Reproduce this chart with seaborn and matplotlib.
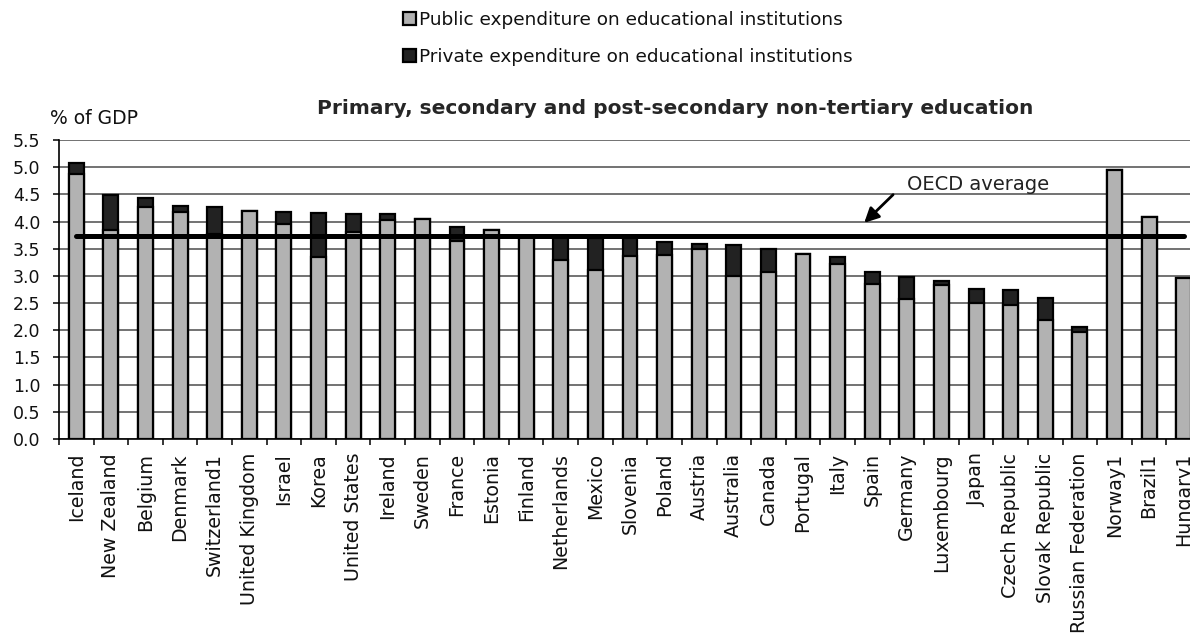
import matplotlib
matplotlib.use("Agg")
import matplotlib.pyplot as plt
from matplotlib.patches import Patch
from matplotlib.ticker import MultipleLocator, FixedLocator
import seaborn as sns
import numpy as np
import pandas as pd

# Data (% of GDP)
countries = ["Iceland", "New Zealand", "Belgium", "Denmark", "Switzerland1",
             "United Kingdom", "Israel", "Korea", "United States", "Ireland",
             "Sweden", "France", "Estonia", "Finland", "Netherlands", "Mexico",
             "Slovenia", "Poland", "Austria", "Australia", "Canada", "Portugal",
             "Italy", "Spain", "Germany", "Luxembourg", "Japan", "Czech Republic",
             "Slovak Republic", "Russian Federation", "Norway1", "Brazil1", "Hungary1"]
public = [4.88, 3.84, 4.26, 4.17, 3.78, 4.20, 3.96, 3.35, 3.81, 4.03,
          4.04, 3.65, 3.85, 3.72, 3.30, 3.11, 3.37, 3.39, 3.49, 3.00,
          3.08, 3.40, 3.22, 2.85, 2.58, 2.83, 2.50, 2.47, 2.19, 1.97,
          4.95, 4.08, 2.96]
private = [0.20, 0.64, 0.17, 0.11, 0.49, 0.00, 0.22, 0.81, 0.32, 0.10,
           0.00, 0.25, 0.00, 0.00, 0.42, 0.59, 0.33, 0.23, 0.10, 0.57,
           0.41, 0.00, 0.12, 0.22, 0.40, 0.08, 0.26, 0.27, 0.41, 0.09,
           0.00, 0.00, 0.00]
oecd_average = 3.73

df = pd.DataFrame({"Country": countries, "Public": public, "Private": private})
df["Total"] = df["Public"] + df["Private"]

sns.set_style("white")
plt.rcParams["font.family"] = ["DejaVu Sans"]

fig = plt.figure(figsize=(11.9, 6.33), dpi=100)
# axes run past the right edge, like the cropped original
ax = fig.add_axes([59 / 1190, 194 / 633, 1142 / 1190, 299 / 633])

grey = "#b2b2b2"
dark = "#222222"

# stacked bars: total (private on top) first, then public over it
sns.barplot(data=df, x="Country", y="Total", ax=ax, color=dark, saturation=1,
            width=0.43, edgecolor="black", linewidth=1.6, zorder=3)
sns.barplot(data=df, x="Country", y="Public", ax=ax, color=grey, saturation=1,
            width=0.43, edgecolor="black", linewidth=1.6, zorder=3)

# OECD average line
ax.plot([0, len(countries) - 1], [oecd_average, oecd_average], color="black",
        linewidth=3.6, zorder=5, solid_capstyle="round")
ax.annotate("", xy=(22.71, 3.94), xytext=(23.66, 4.53),
            arrowprops=dict(arrowstyle="-|>", color="black", lw=2,
                            mutation_scale=22), zorder=6)
ax.text(24.0, 4.68, "OECD average", fontsize=14, va="center", ha="left",
        color="#222222")

# axes styling
ax.set_xlim(-0.5, len(countries) - 0.5)
ax.set_ylim(0, 5.5)
ax.yaxis.set_major_locator(MultipleLocator(0.5))
ax.set_yticklabels([f"{v:.1f}" for v in ax.get_yticks()])
ax.grid(axis="y", color="#5a5a5a", linewidth=1.2, zorder=0)
ax.set_axisbelow(True)
for s in ["top", "right"]:
    ax.spines[s].set_visible(False)
ax.spines["left"].set_color("black")
ax.spines["bottom"].set_color("black")
ax.spines["left"].set_linewidth(1.2)
ax.spines["bottom"].set_linewidth(1.2)

ax.set_xlabel("")
ax.set_ylabel("")
ax.xaxis.set_minor_locator(FixedLocator(np.arange(-0.5, len(countries), 1.0)))
ax.tick_params(axis="x", which="major", length=0, pad=10, labelsize=13.7,
               labelrotation=90, labelcolor="#111111")
ax.tick_params(axis="x", which="minor", bottom=True, length=4.5, width=1.1,
               direction="out", color="black")
ax.tick_params(axis="y", which="major", left=True, length=4.5, width=1.1,
               direction="out", pad=9, labelsize=12.5, color="black",
               labelcolor="#111111")

# legend
handles = [Patch(facecolor=grey, edgecolor="black", linewidth=1.6),
           Patch(facecolor=dark, edgecolor="black", linewidth=1.6)]
labels = ["Public expenditure on educational institutions",
          "Private expenditure on educational institutions"]
fig.legend(handles, labels, loc="upper left",
           bbox_to_anchor=(403 / 1190, 1 - 11 / 633), frameon=False,
           borderpad=0, borderaxespad=0, handlelength=0.7, handleheight=0.7,
           handletextpad=0.15, labelspacing=1.05, fontsize=13.3,
           labelcolor="#111111")

fig.text(675 / 1190, 1 - 108 / 633,
         "Primary, secondary and post-secondary non-tertiary education",
         ha="center", va="center", fontsize=14.5, fontweight="bold")
fig.text(50 / 1190, 1 - 119 / 633, "% of GDP", ha="left", va="center",
         fontsize=13.5, color="#111111")

plt.savefig("out.png", dpi=100)
